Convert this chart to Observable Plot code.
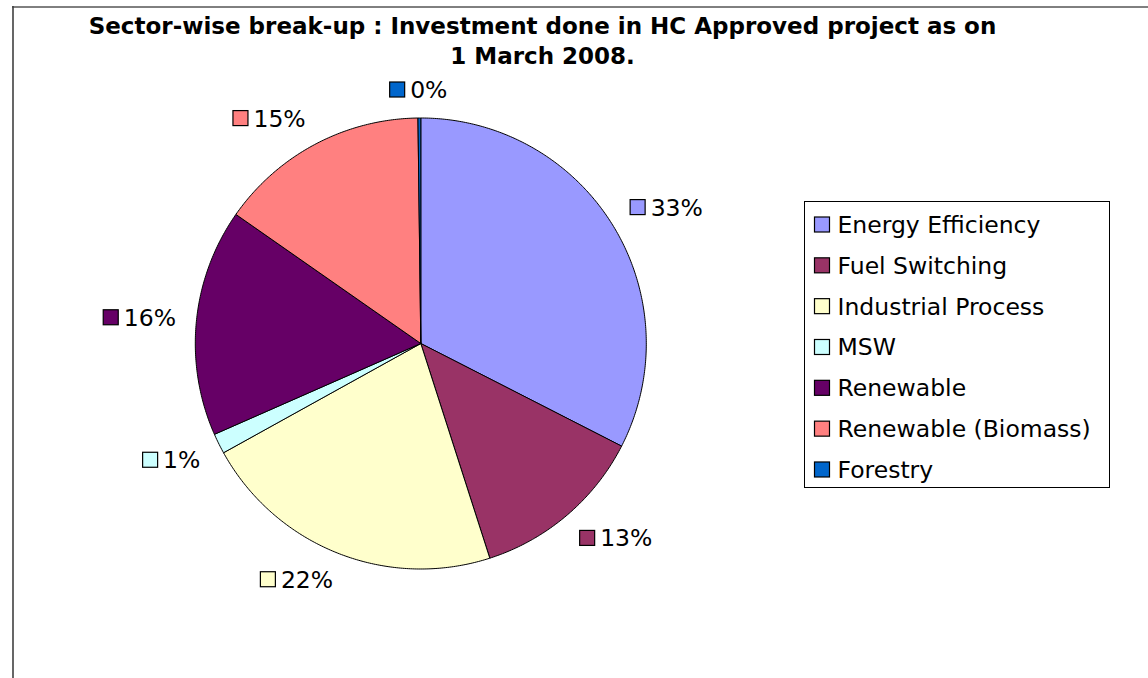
<!DOCTYPE html>
<html><head><meta charset="utf-8">
<script src="https://cdn.jsdelivr.net/npm/d3@7"></script>
<script src="https://cdn.jsdelivr.net/npm/@observablehq/plot@0.6"></script>
<style>
html,body{margin:0;padding:0;background:#fff;overflow:hidden;}
#chart{position:absolute;left:0;top:0;}
</style></head><body><div id="chart"></div>
<script>
const categories = ["Energy Efficiency","Fuel Switching","Industrial Process","MSW","Renewable","Renewable (Biomass)","Forestry"];
const shares = [32.52, 12.53, 21.9, 1.45, 16.3, 15.1, 0.2];
const colors = ["#9999FF","#993366","#FFFFCC","#CCFFFF","#660066","#FF8080","#0066CC"];
const titleLines = ["Sector-wise break-up : Investment done in HC Approved project as on", "1 March 2008."];

const W = 1148, H = 678;
const CX = 420.3, CY = 343, R = 225.5;
const FONT = "DejaVu Sans";
const FS = 23.5;

const total = d3.sum(shares);
let acc = 0;
const slices = categories.map((c, i) => {
  const s = acc / total; acc += shares[i]; const e = acc / total;
  return {cat: c, s, e, pct: Math.round(shares[i] / total * 100)};
});
const pts = [];
slices.forEach(sl => {
  pts.push({cat: sl.cat, x: CX, y: CY});
  const n = Math.max(2, Math.ceil((sl.e - sl.s) * 720));
  for (let k = 0; k <= n; k++) {
    const a = 2 * Math.PI * (sl.s + (sl.e - sl.s) * k / n);
    pts.push({cat: sl.cat, x: CX + R * Math.sin(a), y: CY - R * Math.cos(a)});
  }
  pts.push({cat: sl.cat, x: CX, y: CY});
});

const ctx = document.createElement("canvas").getContext("2d");
ctx.font = `${FS}px "${FONT}"`;
const SQ = 15, GAPT = 5, D = 246, K = 2.5;
const labels = slices.map(sl => {
  const a = Math.PI * (sl.s + sl.e);
  const ux = Math.sin(a), uy = -Math.cos(a);
  const text = sl.pct + "%";
  const tw = ctx.measureText(text).width;
  const w = SQ + GAPT + tw, h = SQ;
  const px = CX + D * ux, py = CY + D * uy;
  const fx = Math.max(-1, Math.min(1, K * ux)), fy = Math.max(-1, Math.min(1, K * uy));
  const gx = px + fx * w / 2, gy = py + fy * h / 2;
  const left = gx - w / 2;
  return {cat: sl.cat, text, x1: left, x2: left + SQ, y1: gy - h / 2, y2: gy + h / 2, tx: left + SQ + GAPT, ty: gy + h / 2 + 0.5};
});

const LX = 804.5, LY = 201.5, LW = 305, LH = 286;
const legendRows = categories.map((c, i) => ({cat: c, y: LY + 23 + i * 40.83}));

const chart = Plot.plot({
  width: W, height: H, margin: 0,
  style: {fontFamily: FONT, background: "white", color: "black"},
  x: {domain: [0, W], range: [0, W], axis: null},
  y: {domain: [0, H], range: [0, H], axis: null},
  color: {domain: categories, range: colors},
  marks: [
    Plot.ruleY([6.5], {x1: 12, x2: W, stroke: "#000", strokeWidth: 1}),
    Plot.ruleX([12.5], {y1: 6, y2: H, stroke: "#404040", strokeWidth: 1.6}),
    Plot.text(titleLines, {x: 542, y: (d, i) => 33.5 + i * 29.5, text: d => d, fontSize: 23, fontWeight: "bold", textAnchor: "middle", lineAnchor: "bottom", fill: "black"}),
    Plot.line(pts, {x: "x", y: "y", z: "cat", fill: "cat", stroke: "black", strokeWidth: 1, strokeLinejoin: "round"}),
    Plot.rect(labels, {x1: "x1", x2: "x2", y1: "y1", y2: "y2", fill: "cat", stroke: "black", strokeWidth: 1.2}),
    Plot.text(labels, {x: "tx", y: "ty", text: "text", fontSize: FS, textAnchor: "start", lineAnchor: "bottom", fill: "black"}),
    Plot.rect([0], {x1: LX, x2: LX + LW, y1: LY, y2: LY + LH, fill: "white", stroke: "#000", strokeWidth: 1}),
    Plot.rect(legendRows, {x1: 814.5, x2: 829.5, y1: d => d.y - 7.5, y2: d => d.y + 7.5, fill: "cat", stroke: "black", strokeWidth: 1.2}),
    Plot.text(legendRows, {x: 837, y: d => d.y + 8, text: "cat", fontSize: FS, textAnchor: "start", lineAnchor: "bottom", fill: "black"})
  ]
});
document.getElementById("chart").appendChild(chart);
</script></body></html>
